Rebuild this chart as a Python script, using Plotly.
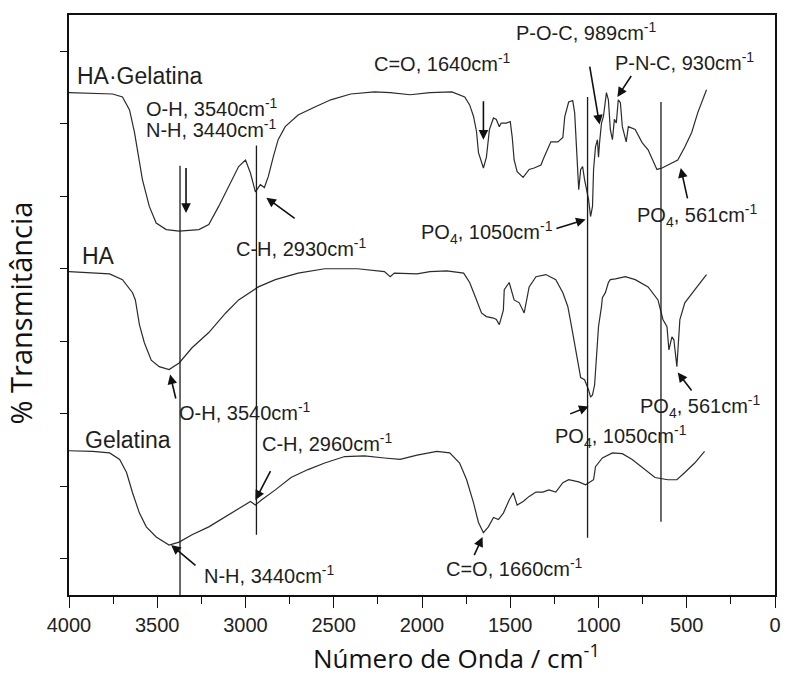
import plotly.graph_objects as go

# ---------------- data ----------------
# wavenumber (cm^-1) and transmittance (arbitrary units, one tick = 1)
ha_gel_wn = [4000, 3753, 3697, 3657, 3629, 3601, 3584, 3545, 3506, 3449, 3376, 3264, 3208, 3152,
             3096, 3039, 3000, 2972, 2944, 2916, 2893, 2871, 2843, 2815, 2775, 2702, 2607, 2517,
             2404, 2270, 2180, 2067, 1955, 1831, 1758, 1730, 1708, 1691, 1680, 1652, 1635, 1618,
             1595, 1579, 1562, 1551, 1522, 1500, 1489, 1478, 1461, 1427, 1393, 1365, 1326, 1315,
             1270, 1230, 1202, 1191, 1169, 1146, 1135, 1124, 1112, 1101, 1090, 1079, 1067, 1056,
             1045, 1034, 1028, 1017, 1006, 1000, 994, 983, 972, 955, 944, 933, 921, 910, 899, 888,
             876, 865, 843, 831, 792, 753, 719, 669, 640, 584, 551, 511, 472, 438, 388]
ha_gel_t = [6.43, 6.41, 6.37, 6.19, 5.88, 5.50, 5.23, 4.86, 4.63, 4.54, 4.52, 4.54, 4.61, 4.86,
            5.13, 5.41, 5.50, 5.32, 5.06, 5.16, 5.12, 5.27, 5.54, 5.78, 5.96, 6.12, 6.23, 6.33,
            6.41, 6.44, 6.43, 6.40, 6.43, 6.44, 6.37, 6.26, 6.10, 5.89, 5.60, 5.39, 5.54, 5.92,
            6.08, 6.06, 5.96, 6.01, 6.01, 6.03, 5.82, 5.50, 5.34, 5.26, 5.37, 5.39, 5.43, 5.50,
            5.75, 5.75, 5.81, 6.10, 6.30, 6.32, 6.15, 5.64, 5.09, 5.37, 5.41, 5.23, 5.09, 4.95,
            4.72, 4.86, 5.37, 5.68, 5.78, 5.54, 5.74, 6.01, 6.10, 6.43, 6.33, 5.92, 5.78, 6.06,
            6.01, 6.33, 6.29, 5.96, 5.75, 5.96, 5.92, 5.74, 5.64, 5.37, 5.39, 5.46, 5.50, 5.68,
            5.88, 6.15, 6.47]

ha_wn = [4000, 3865, 3770, 3697, 3640, 3624, 3601, 3573, 3534, 3489, 3433, 3376, 3303, 3208,
         3112, 3039, 2927, 2831, 2702, 2551, 2365, 2213, 2180, 2157, 2028, 1955, 1860, 1764,
         1730, 1691, 1663, 1635, 1595, 1579, 1562, 1539, 1534, 1506, 1478, 1449, 1421, 1393,
         1354, 1298, 1242, 1202, 1174, 1157, 1140, 1118, 1101, 1079, 1056, 1045, 1034, 1022,
         1011, 1000, 983, 978, 961, 944, 933, 904, 848, 792, 719, 663, 635, 612, 601, 584, 573,
         556, 539, 511, 455, 388]
ha_t = [3.96, 3.94, 3.93, 3.85, 3.67, 3.57, 3.23, 2.98, 2.74, 2.65, 2.61, 2.70, 2.91, 3.12,
        3.39, 3.57, 3.75, 3.85, 3.94, 4.00, 4.00, 3.96, 3.89, 3.94, 3.93, 3.96, 3.97, 3.94,
        3.81, 3.57, 3.39, 3.34, 3.32, 3.30, 3.23, 3.43, 3.71, 3.81, 3.57, 3.53, 3.39, 3.75,
        3.89, 3.92, 3.85, 3.67, 3.48, 3.26, 3.02, 2.74, 2.50, 2.47, 2.33, 2.23, 2.26, 2.40,
        2.74, 3.20, 3.48, 3.60, 3.67, 3.81, 3.85, 3.86, 3.89, 3.85, 3.75, 3.57, 3.30, 3.20, 2.88,
        3.06, 3.02, 2.65, 3.30, 3.53, 3.71, 3.92]

gel_wn = [4000, 3865, 3770, 3713, 3674, 3640, 3601, 3562, 3506, 3433, 3376, 3303, 3208, 3112,
          3022, 2972, 2944, 2910, 2831, 2742, 2646, 2551, 2438, 2326, 2213, 2124, 2028, 1916,
          1843, 1787, 1747, 1708, 1680, 1652, 1624, 1595, 1567, 1539, 1506, 1483, 1461, 1427,
          1393, 1354, 1315, 1281, 1242, 1202, 1169, 1112, 1073, 1045, 1028, 1017, 978, 921, 865,
          809, 753, 680, 607, 556, 511, 455, 399]
gel_t = [1.49, 1.48, 1.46, 1.37, 1.19, 0.91, 0.63, 0.44, 0.30, 0.19, 0.23, 0.33, 0.44, 0.58,
         0.72, 0.79, 0.74, 0.81, 0.95, 1.12, 1.23, 1.32, 1.41, 1.42, 1.39, 1.37, 1.43, 1.48,
         1.46, 1.32, 1.09, 0.77, 0.50, 0.36, 0.44, 0.57, 0.54, 0.63, 0.81, 0.91, 0.74, 0.79,
         0.86, 0.92, 0.92, 0.95, 0.92, 1.05, 1.09, 1.06, 1.02, 1.06, 1.09, 1.27, 1.39, 1.46, 1.45,
         1.37, 1.26, 1.12, 1.09, 1.09, 1.19, 1.32, 1.48]

# reference vertical lines: wavenumber, lower and upper end
ref_wn = [3371, 2938, 1062, 646]
ref_lo = [-0.5, 0.33, 0.29, 0.51]
ref_hi = [5.42, 5.70, 6.37, 6.30]

x_ticks = [0, 500, 1000, 1500, 2000, 2500, 3000, 3500, 4000]
y_ticks = [0, 1, 2, 3, 4, 5, 6, 7]

# ---------------- figure ----------------
LINE = "#2b2b2b"
fig = go.Figure()
for wn, t in [(ha_gel_wn, ha_gel_t), (ha_wn, ha_t), (gel_wn, gel_t)]:
    fig.add_trace(go.Scatter(x=wn, y=t, mode="lines",
                             line=dict(color=LINE, width=1.2), hoverinfo="skip",
                             showlegend=False))

vx, vy = [], []
for w, lo, hi in zip(ref_wn, ref_lo, ref_hi):
    vx += [w, w, None]
    vy += [lo, hi, None]
fig.add_trace(go.Scatter(x=vx, y=vy, mode="lines", line=dict(color="#1a1a1a", width=1.3),
                         hoverinfo="skip", showlegend=False))

AF = "Arial, Liberation Sans, sans-serif"
TXT = "#1e1e1e"
labels = [
    ("HA·Gelatina", 3966, 6.66, 23),
    ("HA", 3938, 4.17, 23),
    ("Gelatina", 3921, 1.64, 23),
    ("O-H, 3540cm<sup>-1</sup>", 3573, 6.23, 20),
    ("N-H, 3440cm<sup>-1</sup>", 3573, 5.94, 20),
    ("C-H, 2930cm<sup>-1</sup>", 3067, 4.30, 20),
    ("C=O, 1640cm<sup>-1</sup>", 2281, 6.84, 20),
    ("P-O-C, 989cm<sup>-1</sup>", 1478, 7.27, 20),
    ("P-N-C, 930cm<sup>-1</sup>", 916, 6.86, 20),
    ("PO<sub>4</sub>, 1050cm<sup>-1</sup>", 2017, 4.50, 20),
    ("PO<sub>4</sub>, 561cm<sup>-1</sup>", 792, 4.74, 20),
    ("O-H, 3540cm<sup>-1</sup>", 3388, 2.03, 20),
    ("C-H, 2960cm<sup>-1</sup>", 2916, 1.60, 20),
    ("N-H, 3440cm<sup>-1</sup>", 3247, -0.22, 20),
    ("PO<sub>4</sub>, 1050cm<sup>-1</sup>", 1258, 1.68, 20),
    ("PO<sub>4</sub>, 561cm<sup>-1</sup>", 775, 2.10, 20),
    ("C=O, 1660cm<sup>-1</sup>", 1876, -0.12, 20),
]
for text, x, y, size in labels:
    fig.add_annotation(x=x, y=y, text=text, showarrow=False, xanchor="left", yanchor="middle",
                       font=dict(family=AF, size=size, color=TXT))

# arrows: (tail x, tail y, head x, head y)
arrows = [
    (3337, 5.41, 3337, 4.77),
    (2713, 4.68, 2882, 4.98),
    (1652, 6.33, 1652, 5.78),
    (1051, 6.81, 994, 5.99),
    (809, 6.68, 893, 6.37),
    (1247, 4.55, 1073, 4.68),
    (494, 4.95, 534, 5.39),
    (3393, 2.19, 3427, 2.54),
    (1169, 1.99, 1056, 2.10),
    (466, 2.30, 551, 2.57),
    (2854, 1.23, 2944, 0.81),
    (3275, -0.11, 3421, 0.19),
    (1708, 0.03, 1657, 0.30),
]
for tx, ty, hx, hy in arrows:
    fig.add_annotation(x=hx, y=hy, ax=tx, ay=ty, xref="x", yref="y", axref="x", ayref="y",
                       text="", showarrow=True, arrowhead=2, arrowsize=1.2, arrowwidth=1.6,
                       arrowcolor="#111111", standoff=0, startstandoff=0)

TF = "Open Sans, sans-serif"
fig.add_annotation(xref="paper", yref="paper", x=0.549, y=-0.107, xanchor="center",
                   yanchor="middle", showarrow=False,
                   text="Número de Onda / cm<sup>-1</sup>",
                   font=dict(family=TF, size=26, color="#111111"))
fig.add_annotation(xref="paper", yref="paper", x=-0.069, y=0.486, xanchor="center",
                   yanchor="middle", showarrow=False, textangle=-90,
                   text="% Transmitância",
                   font=dict(family=TF, size=29, color="#111111"))

fig.update_layout(
    width=786, height=675,
    margin=dict(l=69, r=5, t=15, b=80),
    paper_bgcolor="white", plot_bgcolor="white",
    xaxis=dict(range=[4000, 0], tickvals=x_ticks, ticks="outside", ticklen=11, tickwidth=1.3,
               tickcolor="#111", showline=True, mirror=True, linecolor="#111", linewidth=1.6,
               showgrid=False, zeroline=False,
               tickfont=dict(family=AF, size=20, color="#222"),
               minor=dict(dtick=250, tick0=0, ticks="outside", ticklen=7, tickwidth=1.2,
                          tickcolor="#111", showgrid=False)),
    yaxis=dict(range=[-0.5, 7.5], tickvals=y_ticks, ticks="outside", ticklen=7, tickwidth=1.2,
               tickcolor="#111", showticklabels=False, showline=True, mirror=True,
               linecolor="#111", linewidth=1.6, showgrid=False, zeroline=False),
)

fig.write_html("out.html")
